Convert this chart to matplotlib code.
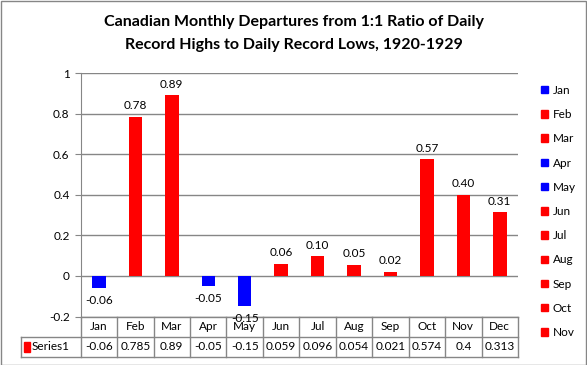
import matplotlib.pyplot as plt
from matplotlib.patches import Patch, Rectangle
from matplotlib.transforms import blended_transform_factory

# data
months = ['Jan', 'Feb', 'Mar', 'Apr', 'May', 'Jun', 'Jul', 'Aug', 'Sep', 'Oct', 'Nov', 'Dec']
values = [-0.06, 0.785, 0.89, -0.05, -0.15, 0.059, 0.096, 0.054, 0.021, 0.574, 0.4, 0.313]
bar_labels = ['-0.06', '0.78', '0.89', '-0.05', '-0.15', '0.06', '0.10', '0.05', '0.02', '0.57', '0.40', '0.31']
legend_months = months[:11]
series_name = 'Series1'

BLUE = '#0000FF'
RED = '#FF0000'
GRID = '#868686'

plt.rcParams['font.family'] = ['Lato', 'DejaVu Sans']

W, H = 587, 365
fig = plt.figure(figsize=(W / 100, H / 100), dpi=100)

# plot area in pixels (left, top, right, bottom)
L, T, R, B = 80.7, 73, 518, 316.5
ax = fig.add_axes([L / W, 1 - B / H, (R - L) / W, (B - T) / H])

colors = [BLUE if v < 0 else RED for v in values]
x = list(range(len(months)))
ax.bar(x, values, width=0.37, color=colors, zorder=3)

for xi, v, lab in zip(x, values, bar_labels):
    if v < 0:
        ax.annotate(lab, (xi, v), xytext=(0, -5), textcoords='offset points',
                    ha='center', va='top', fontsize=8.5)
    else:
        ax.annotate(lab, (xi, v), xytext=(0, 4), textcoords='offset points',
                    ha='center', va='bottom', fontsize=8.5)

ax.set_xlim(-0.5, len(months) - 0.5)
ax.set_ylim(-0.2, 1)
ax.set_yticks([-0.2, 0, 0.2, 0.4, 0.6, 0.8, 1])
ax.set_yticklabels(['-0.2', '0', '0.2', '0.4', '0.6', '0.8', '1'])
ax.set_xticks([])
ax.grid(axis='y', color=GRID, linewidth=1, zorder=0)
for side in ['top', 'right', 'bottom']:
    ax.spines[side].set_visible(False)
ax.spines['left'].set_color(GRID)
ax.tick_params(axis='y', colors=GRID, length=4, labelcolor='black', labelsize=8.5, pad=4)

# data table under the plot
ph = B - T
row1 = -(336.7 - B) / ph
row2 = -(356.7 - B) / ph
first_col = -0.5 - (L - 21) / ((R - L) / len(months))
tr = blended_transform_factory(ax.transData, ax.transAxes)
lk = dict(color=GRID, linewidth=1, transform=tr, clip_on=False)
ax.plot([-0.5, len(months) - 0.5], [0, 0], **lk)
ax.plot([first_col, len(months) - 0.5], [row1, row1], **lk)
ax.plot([first_col, len(months) - 0.5], [row2, row2], **lk)
ax.plot([first_col, first_col], [row1, row2], **lk)
for i in range(len(months) + 1):
    ax.plot([i - 0.5, i - 0.5], [0, row2], **lk)
for xi, m, v in zip(x, months, values):
    ax.text(xi, row1 / 2, m, transform=tr, ha='center', va='center', fontsize=8.5)
    ax.text(xi, (row1 + row2) / 2, '{:g}'.format(v), transform=tr,
            ha='center', va='center', fontsize=8.5)
ax.add_patch(Rectangle((first_col + 0.08, (row1 + row2) / 2 - 0.02), 0.17, 0.04,
                       transform=tr, color=RED, clip_on=False))
ax.text(first_col + 0.3, (row1 + row2) / 2, series_name, transform=tr,
        ha='left', va='center', fontsize=8.5)

# legend (Excel cut it off after Nov)
handles = [Patch(color=c, label=m) for m, c in zip(legend_months, colors)]
fig.legend(handles=handles, loc='upper left', bbox_to_anchor=(535 / W, 1 - 79 / H),
           frameon=False, fontsize=8.5, handlelength=0.6, handleheight=0.6,
           handletextpad=0.4, labelspacing=1.12, borderpad=0)

fig.text(0.5, 1 - 22 / H, 'Canadian Monthly Departures from 1:1 Ratio of Daily',
         ha='center', va='center', fontsize=11.5, fontweight='bold')
fig.text(0.5, 1 - 45 / H, 'Record Highs to Daily Record Lows, 1920-1929',
         ha='center', va='center', fontsize=11.5, fontweight='bold')

fig.add_artist(Rectangle((0.5 / W, 0.5 / H), (W - 1.5) / W, (H - 1.5) / H,
                         transform=fig.transFigure, fill=False, edgecolor=GRID, linewidth=1))

fig.savefig('out.png', dpi=100)
